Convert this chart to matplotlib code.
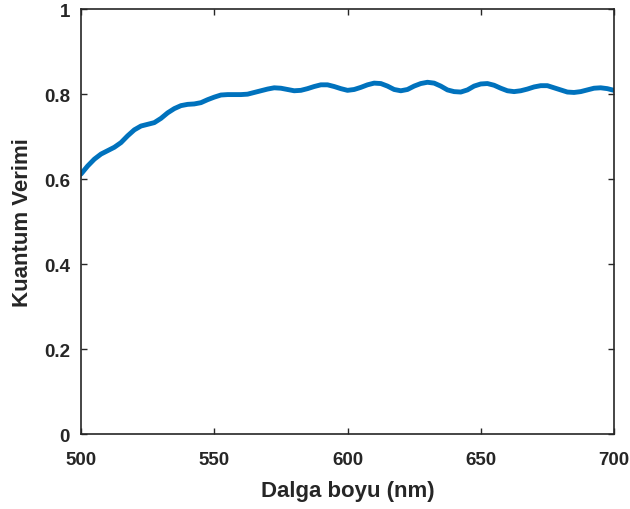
import matplotlib
matplotlib.use('Agg')
import matplotlib.pyplot as plt

# wavelength (nm) and quantum efficiency
wavelength = [500, 502.5, 505, 507.5, 510, 512.5, 515, 517.5, 520, 522.5,
              525, 527.5, 530, 532.5, 535, 537.5, 540, 542.5, 545, 547.5,
              550, 552.5, 555, 557.5, 560, 562.5, 565, 567.5, 570, 572.5,
              575, 577.5, 580, 582.5, 585, 587.5, 590, 592.5, 595, 597.5,
              600, 602.5, 605, 607.5, 610, 612.5, 615, 617.5, 620, 622.5,
              625, 627.5, 630, 632.5, 635, 637.5, 640, 642.5, 645, 647.5,
              650, 652.5, 655, 657.5, 660, 662.5, 665, 667.5, 670, 672.5,
              675, 677.5, 680, 682.5, 685, 687.5, 690, 692.5, 695, 697.5,
              700]
efficiency = [0.612, 0.631, 0.647, 0.659, 0.667, 0.675, 0.686, 0.702, 0.716, 0.725,
              0.729, 0.733, 0.743, 0.756, 0.766, 0.773, 0.776, 0.777, 0.780, 0.787,
              0.793, 0.798, 0.799, 0.799, 0.799, 0.800, 0.804, 0.808, 0.812, 0.815,
              0.814, 0.811, 0.808, 0.809, 0.813, 0.818, 0.822, 0.822, 0.818, 0.813,
              0.809, 0.811, 0.816, 0.822, 0.826, 0.825, 0.819, 0.811, 0.808, 0.811,
              0.819, 0.825, 0.828, 0.826, 0.819, 0.810, 0.806, 0.805, 0.810, 0.819,
              0.824, 0.825, 0.821, 0.814, 0.808, 0.806, 0.808, 0.812, 0.817, 0.820,
              0.820, 0.815, 0.810, 0.805, 0.804, 0.806, 0.810, 0.814, 0.815, 0.813,
              0.809]

x_ticks = [500, 550, 600, 650, 700]
y_ticks = [0, 0.2, 0.4, 0.6, 0.8, 1]
y_tick_labels = ['0', '0.2', '0.4', '0.6', '0.8', '1']

plt.rcParams['font.family'] = ['Liberation Sans', 'DejaVu Sans']
dark = (0.15, 0.15, 0.15)

fig = plt.figure(figsize=(6.3, 5.1), dpi=100)
ax = fig.add_axes([0.1286, 0.147, 0.846, 0.833])

ax.plot(wavelength, efficiency, color=(0, 0.447, 0.741), linewidth=3.5,
        solid_capstyle='round')

ax.set_xlim(500, 700)
ax.set_ylim(0, 1)
ax.set_xticks(x_ticks)
ax.set_yticks(y_ticks)
ax.set_yticklabels(y_tick_labels)

ax.tick_params(direction='in', length=4, width=1, colors=dark,
               labelsize=13.5, top=True, right=True)
ax.tick_params(axis='x', pad=12)
ax.tick_params(axis='y', pad=8)
for lab in ax.get_xticklabels() + ax.get_yticklabels():
    lab.set_fontweight('bold')
for sp in ax.spines.values():
    sp.set_color(dark)
    sp.set_linewidth(1.2)

ax.set_xlabel('Dalga boyu (nm)', fontsize=16, fontweight='bold', color=dark,
              labelpad=9)
ax.set_ylabel('Kuantum Verimi', fontsize=16, fontweight='bold', color=dark,
              labelpad=8)

fig.savefig('out.png', dpi=100)
